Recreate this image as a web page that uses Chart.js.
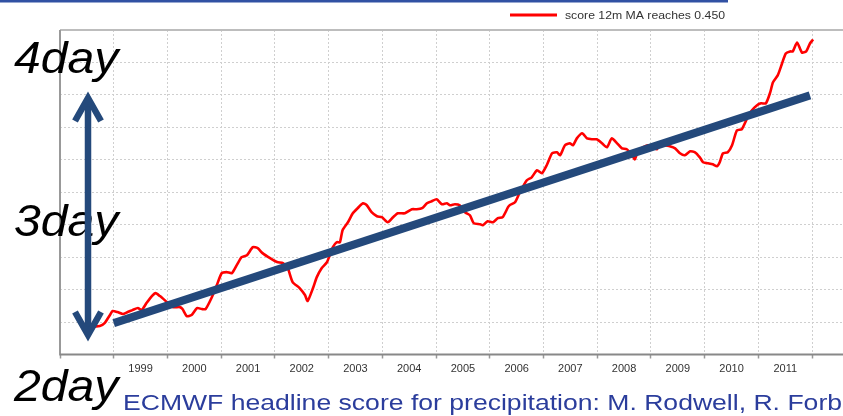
<!DOCTYPE html>
<html><head><meta charset="utf-8">
<script src="https://cdn.jsdelivr.net/npm/chart.js@4.4.1/dist/chart.umd.min.js"></script>
<style>html,body{margin:0;padding:0;background:#fff;overflow:hidden}#wrap{position:relative;width:843px;height:416px}</style>
</head><body><div id="wrap"><canvas id="c" width="843" height="416"></canvas></div>
<script>
const seriesLabel = 'score 12m MA reaches 0.450';
const yearTicks = [1999,2000,2001,2002,2003,2004,2005,2006,2007,2008,2009,2010,2011];
const scoreYears = [1998.61,1998.74,1998.83,1998.93,1998.98,1999.07,1999.17,1999.26,1999.35,1999.45,
1999.52,1999.61,1999.71,1999.78,1999.86,1999.99,2000.10,2000.23,2000.28,2000.36,
2000.45,2000.55,2000.64,2000.71,2000.82,2000.92,2001.01,2001.10,2001.20,2001.29,
2001.38,2001.48,2001.59,2001.68,2001.77,2001.91,2002.04,2002.15,2002.24,2002.33,
2002.46,2002.56,2002.61,2002.71,2002.78,2002.87,2002.97,2003.08,2003.15,2003.21,
2003.26,2003.36,2003.45,2003.54,2003.64,2003.71,2003.80,2003.90,2003.99,2004.10,
2004.20,2004.29,2004.42,2004.55,2004.64,2004.74,2004.83,2004.92,2005.01,2005.11,
2005.20,2005.26,2005.35,2005.44,2005.54,2005.63,2005.70,2005.82,2005.87,2005.96,
2006.06,2006.15,2006.24,2006.34,2006.37,2006.47,2006.56,2006.69,2006.78,2006.88,
2006.97,2007.06,2007.16,2007.25,2007.31,2007.40,2007.49,2007.55,2007.62,2007.72,
2007.81,2007.90,2007.99,2008.09,2008.18,2008.27,2008.37,2008.46,2008.55,2008.65,
2008.70,2008.76,2008.85,2008.94,2009.04,2009.11,2009.17,2009.26,2009.35,2009.45,
2009.54,2009.63,2009.73,2009.82,2009.91,2009.97,2010.06,2010.15,2010.23,2010.28,
2010.34,2010.43,2010.51,2010.60,2010.69,2010.79,2010.88,2010.97,2011.05,2011.14,
2011.22,2011.27,2011.36,2011.44,2011.51,2011.59,2011.64,2011.72,2011.81,2011.89,
2011.96,2012.02];
const scoreDays = [1.964,1.969,1.992,2.054,2.085,2.077,2.062,2.077,2.092,2.108,
2.092,2.146,2.200,2.223,2.200,2.154,2.115,2.115,2.100,2.046,
2.054,2.108,2.100,2.100,2.185,2.285,2.377,2.385,2.377,2.438,
2.500,2.515,2.577,2.569,2.531,2.492,2.462,2.454,2.415,2.308,
2.262,2.208,2.162,2.262,2.346,2.415,2.462,2.577,2.615,2.615,
2.708,2.769,2.838,2.877,2.915,2.900,2.846,2.815,2.808,2.769,
2.808,2.838,2.838,2.869,2.869,2.877,2.915,2.931,2.946,2.908,
2.915,2.900,2.908,2.900,2.846,2.823,2.762,2.754,2.746,2.777,
2.769,2.800,2.808,2.885,2.900,2.923,3.000,3.092,3.115,3.169,
3.146,3.208,3.300,3.308,3.285,3.362,3.377,3.362,3.415,3.454,
3.415,3.408,3.408,3.377,3.346,3.415,3.377,3.338,3.331,3.285,
3.254,3.323,3.346,3.362,3.346,3.331,3.377,3.362,3.354,3.338,
3.300,3.285,3.315,3.308,3.269,3.231,3.223,3.215,3.200,3.231,
3.300,3.308,3.362,3.477,3.485,3.569,3.631,3.669,3.685,3.685,
3.769,3.846,3.900,3.992,4.069,4.085,4.085,4.154,4.077,4.085,
4.146,4.177];
const trendYears = [1999.0, 2011.96];
const trendDays = [1.992, 3.746];
const dayLabels = ['4day', '3day', '2day'];
const caption = 'ECMWF headline score for precipitation: M. Rodwell, R. Forb';

const BLUE = '#24497b';
const FONT = '"Liberation Sans", Arial, Helvetica, sans-serif';

function stretchText(ctx, text, x, y, font, color, targetW, scaleX) {
  ctx.save();
  ctx.font = font;
  ctx.fillStyle = color;
  let s = scaleX || 1;
  if (targetW) s = targetW / ctx.measureText(text).width;
  ctx.translate(x, y);
  ctx.scale(s, 1);
  ctx.fillText(text, 0, 0);
  ctx.restore();
}

const decor = {
  id: 'decor',
  beforeDatasetsDraw(chart) {
    const {ctx, chartArea: a} = chart;
    ctx.save();
    ctx.lineCap = 'butt';
    ctx.strokeStyle = '#bdbdbd'; ctx.lineWidth = 2;
    ctx.beginPath(); ctx.moveTo(a.left, a.top); ctx.lineTo(a.right, a.top); ctx.stroke();
    ctx.strokeStyle = '#999'; ctx.lineWidth = 2;
    ctx.beginPath(); ctx.moveTo(a.left, a.top); ctx.lineTo(a.left, a.bottom + 1); ctx.stroke();
    ctx.strokeStyle = '#888'; ctx.lineWidth = 2;
    ctx.beginPath(); ctx.moveTo(a.left, a.bottom); ctx.lineTo(a.right, a.bottom); ctx.stroke();
    ctx.restore();
  },
  afterDraw(chart) {
    const {ctx} = chart;
    ctx.save();
    ctx.fillStyle = '#3151a3';
    ctx.fillRect(0, 0, 728, 2.5);
    ctx.strokeStyle = '#ff0000'; ctx.lineWidth = 3;
    ctx.beginPath(); ctx.moveTo(510, 15); ctx.lineTo(557, 15); ctx.stroke();
    ctx.textBaseline = 'middle';
    stretchText(ctx, seriesLabel, 565, 15.5, '11px ' + FONT, '#333', 160);
    ctx.textBaseline = 'alphabetic';
    const bl = [73, 236, 401];
    dayLabels.forEach((t, i) => stretchText(ctx, t, 14, bl[i], 'italic 45px ' + FONT, '#000', null, 1.07));
    stretchText(ctx, caption, 123, 410, '22.5px ' + FONT, '#2b3d9c', 719);
    ctx.strokeStyle = BLUE; ctx.lineWidth = 6.5; ctx.lineCap = 'butt'; ctx.lineJoin = 'miter';
    ctx.beginPath(); ctx.moveTo(88, 100); ctx.lineTo(88, 333); ctx.stroke();
    ctx.beginPath(); ctx.moveTo(75, 121); ctx.lineTo(88, 98); ctx.lineTo(101, 121); ctx.stroke();
    ctx.beginPath(); ctx.moveTo(75, 312); ctx.lineTo(88, 335); ctx.lineTo(101, 312); ctx.stroke();
    ctx.restore();
  }
};

new Chart(document.getElementById('c'), {
  type: 'line',
  data: {
    datasets: [
      {
        label: 'trend',
        data: trendYears.map((x, i) => ({x, y: trendDays[i]})),
        borderColor: BLUE, borderWidth: 8, pointRadius: 0, borderCapStyle: 'butt', order: 0
      },
      {
        label: seriesLabel,
        data: scoreYears.map((x, i) => ({x, y: scoreDays[i]})),
        borderColor: '#ff0000', borderWidth: 2.6, pointRadius: 0, tension: 0.2, order: 1
      }
    ]
  },
  options: {
    responsive: false, animation: false, devicePixelRatio: 1,
    layout: {padding: {top: 30, left: 0, right: 0, bottom: 0}},
    plugins: {legend: {display: false}, tooltip: {enabled: false}},
    scales: {
      x: {
        type: 'linear', min: 1998, max: 2012.575,
        afterBuildTicks: s => { const t = []; for (let v = 1998; v <= 2012; v++) t.push({value: v}); s.ticks = t; },
        afterFit: s => { s.height = 61.5; },
        ticks: {
          autoSkip: false, maxRotation: 0, minRotation: 0, labelOffset: 26.86, padding: 4,
          color: '#333', font: {family: FONT, size: 11},
          callback: v => yearTicks.includes(v) ? String(v) : ''
        },
        grid: {color: '#cfcfcf', lineWidth: 1, tickLength: 4, tickColor: '#999', tickWidth: 1.5},
        border: {display: false, dash: [2, 2]}
      },
      y: {
        min: 1.75, max: 4.25,
        afterFit: s => { s.width = 60; },
        ticks: {display: false, stepSize: 0.25},
        grid: {color: '#cfcfcf', lineWidth: 1, drawTicks: false},
        border: {display: false, dash: [2, 2]}
      }
    }
  },
  plugins: [decor]
});
</script>
</body></html>
